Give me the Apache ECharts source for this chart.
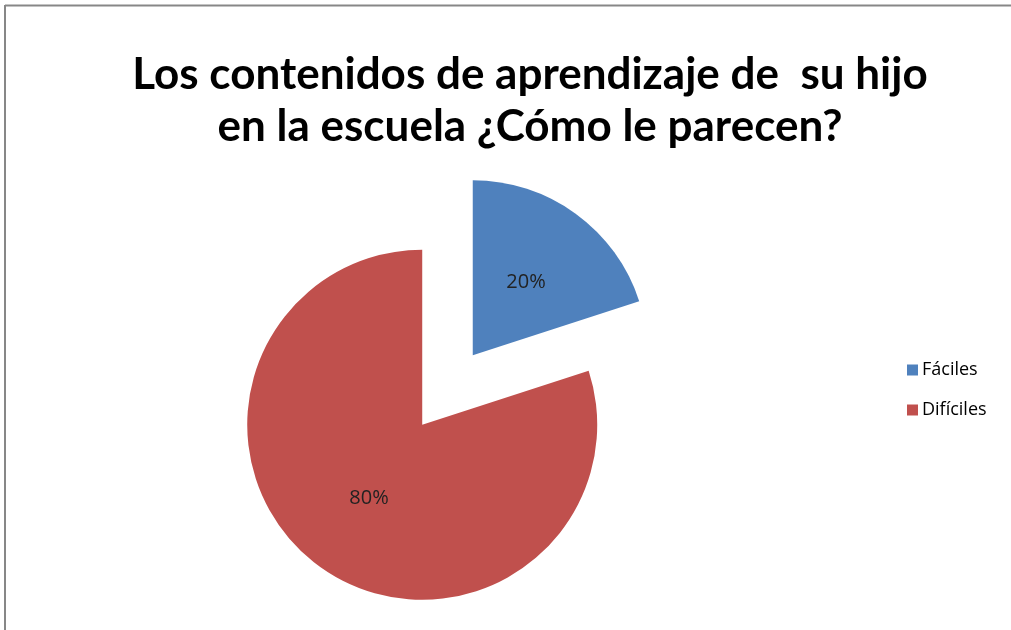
<!DOCTYPE html>
<html>
<head>
<meta charset="utf-8">
<script src="https://cdn.jsdelivr.net/npm/echarts@6/dist/echarts.min.js"></script>
<style>
  html, body { margin: 0; padding: 0; background: #fff; }
  #chart { width: 1011px; height: 630px; }
</style>
</head>
<body>
<div id="chart"></div>
<script>
const categories = ['Fáciles', 'Difíciles'];
const percents = [20, 80];
const colors = ['#4F81BD', '#C0504D'];

const chart = echarts.init(document.getElementById('chart'));
chart.setOption({
  animation: false,
  title: {
    text: 'Los contenidos de aprendizaje de  su hijo\nen la escuela ¿Cómo le parecen?',
    left: 525,
    textAlign: 'center',
    top: 44,
    textStyle: {
      fontFamily: 'Lato',
      fontWeight: 'bold',
      fontSize: 44,
      lineHeight: 52,
      color: '#000'
    }
  },
  legend: {
    orient: 'vertical',
    left: 902,
    top: 356,
    itemWidth: 11,
    itemHeight: 11,
    itemGap: 22,
    icon: 'rect',
    selectedMode: false,
    textStyle: { fontFamily: 'Open Sans', fontSize: 18, color: '#000', padding: [0, 0, 0, -1] },
    data: categories
  },
  graphic: [
    { type: 'line', shape: { x1: 5, y1: 5.5, x2: 1011, y2: 5.5 }, style: { stroke: '#878787', lineWidth: 2 } },
    { type: 'line', shape: { x1: 5, y1: 5, x2: 5, y2: 630 }, style: { stroke: '#878787', lineWidth: 2 } }
  ],
  series: [{
    type: 'pie',
    center: [447.5, 390],
    radius: 175,
    startAngle: 90,
    clockwise: true,
    selectedMode: 'multiple',
    selectedOffset: 43,
    label: {
      position: 'inside',
      formatter: '{c}%',
      fontFamily: 'Open Sans',
      fontSize: 20,
      color: '#222',
      padding: [6, 0, 0, 0]
    },
    labelLine: { show: false },
    emphasis: { disabled: true },
    data: categories.map((name, i) => ({
      name: name,
      value: percents[i],
      selected: true,
      itemStyle: { color: colors[i] }
    }))
  }]
});
</script>
</body>
</html>
